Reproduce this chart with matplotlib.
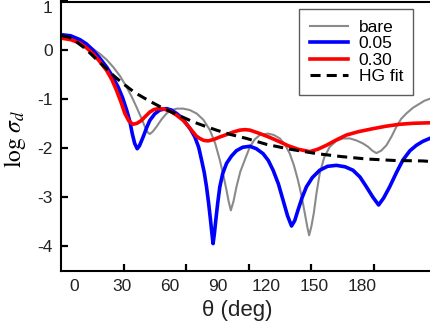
import numpy as np
import matplotlib
matplotlib.use("Agg")
import matplotlib.pyplot as plt

plt.rcParams['font.family'] = ['Liberation Sans', 'DejaVu Sans']
plt.rcParams['mathtext.fontset'] = 'stix'

# data (theta in deg as labelled on the axis, log sigma_d)
bare_x = [-7.7, -2, 3.8, 10, 16.3, 20.5, 24.6, 29, 33, 36.2, 39.2, 42, 44.4, 46, 47.5, 49.3, 51.7, 54.8,
          57.9, 61, 64.5, 68.3, 72.5, 76.7, 81, 85, 88.3, 91.2, 93.4, 95.4, 96.8, 98.1, 99.8, 101.6, 104,
          106.8, 110, 113, 116.2, 121.3, 125, 128.7, 132, 134.9, 137.5, 140, 142.3, 144.3, 145.8, 147,
          148.4, 149.9, 151.6, 153.6, 156.5, 159.9, 164, 168.2, 172.5, 176.5, 180.5, 183.8, 186.5, 189,
          192, 195.3, 198.5, 201.5, 204.5, 207.7, 212, 216, 219, 222.3]
bare_y = [0.29, 0.27, 0.20, 0.08, -0.07, -0.19, -0.34, -0.53, -0.75, -0.95, -1.16, -1.37, -1.56, -1.67,
          -1.71, -1.66, -1.56, -1.41, -1.29, -1.22, -1.19, -1.19, -1.22, -1.29, -1.42, -1.63, -1.90, -2.24,
          -2.55, -2.86, -3.10, -3.27, -3.08, -2.79, -2.48, -2.24, -1.97, -1.82, -1.73, -1.70, -1.73, -1.80,
          -1.93, -2.11, -2.35, -2.65, -2.98, -3.33, -3.60, -3.78, -3.60, -3.33, -2.92, -2.52, -2.18, -1.97,
          -1.85, -1.80, -1.80, -1.84, -1.90, -1.97, -2.05, -2.10, -2.05, -1.94, -1.76, -1.56, -1.40, -1.29,
          -1.17, -1.09, -1.03, -0.99]

c005_x = [-7.7, -2, 3.8, 8, 12.1, 16, 20.5, 24, 27.7, 30.5, 33, 35, 36.5, 38, 39.6, 41, 43.3, 45.5, 47.5,
          50.5, 53.7, 57.9, 61, 64.2, 67.5, 70.4, 73, 75.6, 78, 79.8, 81.5, 82.9, 84.2, 85.4, 86.3, 87,
          87.8, 88.7, 89.9, 91.2, 93, 95.4, 98.5, 101.6, 105.5, 110, 114, 118.2, 121.5, 124.5, 127.8, 130.7,
          133.5, 136, 138, 140, 142.5, 145.3, 149, 153.6, 158.5, 164, 169.5, 174.4, 178.8, 182.8, 186.8,
          190.4, 193.5, 197.3, 201.5, 205.6, 210, 214, 218, 222.3]
c005_y = [0.32, 0.30, 0.22, 0.13, 0.0, -0.15, -0.34, -0.52, -0.75, -0.97, -1.22, -1.45, -1.70, -1.90,
          -2.01, -1.95, -1.77, -1.58, -1.43, -1.30, -1.22, -1.19, -1.22, -1.29, -1.38, -1.50, -1.62, -1.77,
          -1.98, -2.24, -2.50, -2.79, -3.12, -3.47, -3.75, -3.95, -3.75, -3.47, -3.12, -2.79, -2.52, -2.31,
          -2.16, -2.05, -1.98, -1.96, -2.01, -2.11, -2.25, -2.45, -2.73, -3.06, -3.38, -3.59, -3.48, -3.27,
          -3.02, -2.79, -2.60, -2.45, -2.37, -2.35, -2.38, -2.45, -2.59, -2.79, -3.00, -3.16, -3.02, -2.79,
          -2.50, -2.24, -2.05, -1.94, -1.86, -1.80]

c030_x = [-7.7, -2, 3.8, 8, 12.1, 16, 20.5, 23.8, 26.7, 29.5, 31.9, 34.5, 37.1, 39.5, 42.3, 45, 47.5, 50,
          52.7, 56.5, 60, 64, 68.3, 71.5, 74.5, 76.5, 78.7, 81.2, 83.9, 87.5, 91.2, 95.5, 99.5, 103.7, 107,
          110, 116.2, 122.5, 128.7, 134, 140, 147.4, 152.5, 157.8, 164, 170.3, 178, 186.9, 195, 203.6, 212,
          222.3]
c030_y = [0.25, 0.22, 0.15, 0.05, -0.07, -0.22, -0.41, -0.60, -0.82, -1.06, -1.29, -1.45, -1.51, -1.49,
          -1.43, -1.34, -1.26, -1.21, -1.19, -1.20, -1.24, -1.32, -1.43, -1.55, -1.67, -1.75, -1.80, -1.84,
          -1.85, -1.82, -1.77, -1.72, -1.67, -1.63, -1.62, -1.63, -1.70, -1.78, -1.87, -1.95, -2.02, -2.07,
          -2.02, -1.94, -1.83, -1.73, -1.66, -1.60, -1.55, -1.51, -1.49, -1.48]

hg_x = [-7.7, -3, 0, 3, 5.9, 10, 15, 20, 25, 30.8, 38, 46.4, 55, 65, 74.5, 82, 89.1, 98, 107.9, 120.3,
        135, 151.6, 167, 182.8, 200, 218.1, 222.3]
hg_y = [0.30, 0.27, 0.22, 0.14, 0.07, -0.05, -0.21, -0.36, -0.52, -0.68, -0.86, -1.02, -1.17, -1.32,
        -1.46, -1.55, -1.63, -1.72, -1.80, -1.92, -2.02, -2.11, -2.17, -2.22, -2.25, -2.26, -2.27]

x_labels = [0, 30, 60, 90, 120, 150, 180]
x_marks = [31.1, 70.2, 109.3, 148.4, 187.5]
y_ticks = [-4, -3, -2, -1, 0, 1]

fig = plt.figure(figsize=(4.3, 3.35), dpi=100)
ax = fig.add_axes([61 / 430, 1 - 270.5 / 335, 381 / 430, 269 / 335])

ax.plot(bare_x, bare_y, color='#8a8a8a', lw=1.5, label='bare')
ax.plot(c005_x, c005_y, color='#0000ff', lw=2.6, label='0.05')
ax.plot(c030_x, c030_y, color='#ff0000', lw=2.6, label='0.30')
ax.plot(hg_x, hg_y, color='black', lw=2.2, dashes=(3.3, 2.0), label='HG fit')

ax.set_xlim(-8, 230)
ax.set_ylim(-4.5, 1.0)

# the labels and the tick marks sit at different places on this axis
ax.set_xticks(x_labels)
ax.set_xticklabels([str(v) for v in x_labels])
ax.set_xticks(x_marks, minor=True)
ax.tick_params(axis='x', which='major', length=0, pad=6, labelsize=12.5, labelcolor='#222222')
ax.tick_params(axis='x', which='minor', bottom=True, direction='in', length=5, width=1.6, color='black')
ax.set_yticks(y_ticks)
ax.set_yticklabels([str(v) for v in y_ticks])
ax.tick_params(axis='y', which='major', direction='in', length=5, width=1.6, color='black', pad=6,
               labelsize=12.5, labelcolor='#222222')
ax.get_yticklabels()[-1].set_verticalalignment('top')

for s in ax.spines.values():
    s.set_linewidth(1.5)

ax.set_xlabel('θ (deg)', fontsize=16, color='#222222')
ax.xaxis.set_label_coords((237 - 61) / 381, -0.11)
ax.xaxis.label.set_verticalalignment('top')
ax.set_ylabel(r'$\log\,\sigma_d$', fontsize=17)
ax.yaxis.set_label_coords((28 - 61) / 381, 0.489)

leg = ax.legend(loc='upper right', bbox_to_anchor=(413.3 / 430, 1 - 9.3 / 335),
                bbox_transform=fig.transFigure, fontsize=12.5, frameon=True, fancybox=False,
                edgecolor='#333333', handlelength=2.2, handletextpad=0.6, labelspacing=0.08,
                borderpad=0.6, borderaxespad=0)
leg.get_frame().set_linewidth(1.0)

fig.savefig('out.png', dpi=100)
